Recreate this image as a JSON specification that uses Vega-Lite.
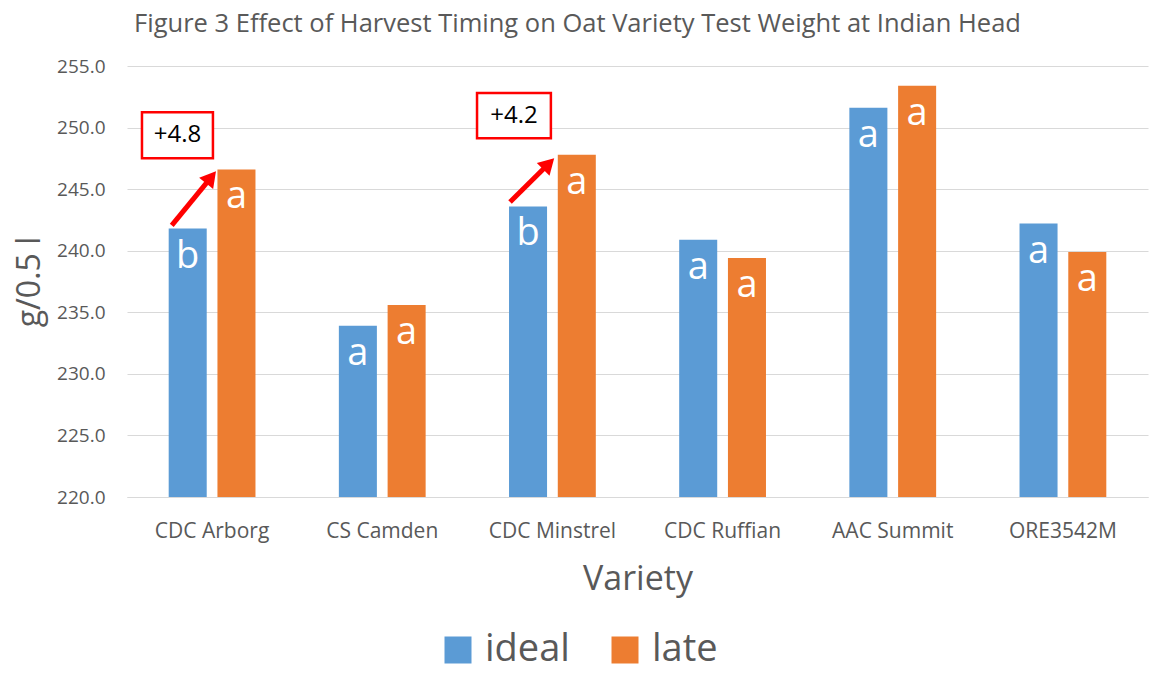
{
  "$schema": "https://vega.github.io/schema/vega-lite/v6.json",
  "width": 1021,
  "height": 431,
  "autosize": {"type": "none"},
  "padding": {"left": 127, "top": 66, "right": 3, "bottom": 176},
  "background": "white",
  "config": {"view": {"stroke": null}, "font": "Open Sans"},
  "title": {
    "text": "Figure 3 Effect of Harvest Timing on Oat Variety Test Weight at Indian Head",
    "fontSize": 25.5, "font": "Open Sans", "fontWeight": "normal", "color": "#595959",
    "anchor": "middle", "frame": "group", "dx": -60, "offset": 20
  },
  "datasets": {
    "bars": [
      {"variety": "CDC Arborg", "timing": "ideal", "value": 241.8, "letter": "b"},
      {"variety": "CDC Arborg", "timing": "late", "value": 246.6, "letter": "a"},
      {"variety": "CS Camden", "timing": "ideal", "value": 233.9, "letter": "a"},
      {"variety": "CS Camden", "timing": "late", "value": 235.6, "letter": "a"},
      {"variety": "CDC Minstrel", "timing": "ideal", "value": 243.6, "letter": "b"},
      {"variety": "CDC Minstrel", "timing": "late", "value": 247.8, "letter": "a"},
      {"variety": "CDC Ruffian", "timing": "ideal", "value": 240.9, "letter": "a"},
      {"variety": "CDC Ruffian", "timing": "late", "value": 239.4, "letter": "a"},
      {"variety": "AAC Summit", "timing": "ideal", "value": 251.6, "letter": "a"},
      {"variety": "AAC Summit", "timing": "late", "value": 253.4, "letter": "a"},
      {"variety": "ORE3542M", "timing": "ideal", "value": 242.2, "letter": "a"},
      {"variety": "ORE3542M", "timing": "late", "value": 239.9, "letter": "a"}
    ],
    "boxes": [
      {"label": "+4.8", "x1": 0.088, "x2": 0.505, "y1": 247.5, "y2": 251.24, "xm": 0.297, "ym": 249.37},
      {"label": "+4.2", "x1": 2.057, "x2": 2.491, "y1": 249.13, "y2": 252.8, "xm": 2.274, "ym": 250.97}
    ],
    "arrows": [
      {"name": "Arborg", "x1": 0.263, "y1": 242.06, "x2": 0.494, "y2": 245.96},
      {"name": "Minstrel", "x1": 2.251, "y1": 243.95, "x2": 2.478, "y2": 247.06}
    ]
  },
  "layer": [
    {
      "data": {"name": "bars"},
      "encoding": {
        "x": {
          "field": "variety", "type": "nominal",
          "sort": ["CDC Arborg", "CS Camden", "CDC Minstrel", "CDC Ruffian", "AAC Summit", "ORE3542M"],
          "scale": {"paddingInner": 0.49, "paddingOuter": 0.245},
          "axis": {
            "title": "Variety", "labelAngle": 0, "labelFontSize": 21, "labelColor": "#595959",
            "labelPadding": 23, "ticks": false, "domainColor": "#D9D9D9",
            "titleFontSize": 34, "titleFontWeight": "normal", "titleColor": "#595959",
            "titlePadding": 21
          }
        },
        "xOffset": {"field": "timing", "type": "nominal", "sort": ["ideal", "late"], "scale": {"paddingInner": 0.22}},
        "y": {
          "field": "value", "type": "quantitative",
          "scale": {"domain": [220, 255], "zero": false, "nice": false},
          "axis": {
            "title": "g/0.5 l", "values": [220, 225, 230, 235, 240, 245, 250, 255], "format": ".1f",
            "labelFontSize": 19, "labelColor": "#595959", "labelPadding": 22,
            "domain": false, "ticks": false, "gridColor": "#D9D9D9",
            "titleFontSize": 32, "titleFontWeight": "normal", "titleColor": "#595959",
            "titlePadding": 10
          }
        }
      },
      "layer": [
        {
          "mark": {"type": "bar"},
          "encoding": {
            "y2": {"datum": 220},
            "color": {
              "field": "timing", "type": "nominal",
              "scale": {"domain": ["ideal", "late"], "range": ["#5B9BD5", "#ED7D31"]},
              "legend": {
                "title": null, "orient": "none", "legendX": 312, "legendY": 565,
                "direction": "horizontal", "symbolType": "square", "symbolSize": 729,
                "symbolStrokeWidth": 0, "labelFontSize": 38, "labelColor": "#595959",
                "labelOffset": 8, "columnPadding": 36
              }
            }
          }
        },
        {
          "mark": {"type": "text", "color": "white", "fontSize": 38, "baseline": "alphabetic", "dy": 39},
          "encoding": {"text": {"field": "letter"}}
        }
      ]
    },
    {
      "layer": [
        {
          "data": {"name": "arrows"},
          "mark": {"type": "rule", "color": "#FF0000", "strokeWidth": 5},
          "encoding": {
            "x": {"field": "x1", "type": "quantitative", "scale": {"domain": [0, 6], "nice": false, "zero": false}, "axis": null},
            "x2": {"field": "x2"},
            "y": {"field": "y1", "type": "quantitative"},
            "y2": {"field": "y2"}
          }
        },
        {
          "data": {"name": "arrows"},
          "transform": [{"filter": "datum.name === 'Arborg'"}],
          "mark": {"type": "point", "shape": "triangle-up", "filled": true, "color": "#FF0000", "size": 324, "angle": 39, "opacity": 1},
          "encoding": {
            "x": {"field": "x2", "type": "quantitative"},
            "y": {"field": "y2", "type": "quantitative"}
          }
        },
        {
          "data": {"name": "arrows"},
          "transform": [{"filter": "datum.name === 'Minstrel'"}],
          "mark": {"type": "point", "shape": "triangle-up", "filled": true, "color": "#FF0000", "size": 324, "angle": 45, "opacity": 1},
          "encoding": {
            "x": {"field": "x2", "type": "quantitative"},
            "y": {"field": "y2", "type": "quantitative"}
          }
        },
        {
          "data": {"name": "boxes"},
          "mark": {"type": "rect", "fill": "white", "stroke": "#FF0000", "strokeWidth": 2.5},
          "encoding": {
            "x": {"field": "x1", "type": "quantitative"},
            "x2": {"field": "x2"},
            "y": {"field": "y1", "type": "quantitative"},
            "y2": {"field": "y2"}
          }
        },
        {
          "data": {"name": "boxes"},
          "mark": {"type": "text", "fontSize": 24, "color": "black", "baseline": "middle"},
          "encoding": {
            "x": {"field": "xm", "type": "quantitative"},
            "y": {"field": "ym", "type": "quantitative"},
            "text": {"field": "label"}
          }
        }
      ]
    }
  ],
  "resolve": {"scale": {"x": "independent"}, "axis": {"x": "independent"}}
}
